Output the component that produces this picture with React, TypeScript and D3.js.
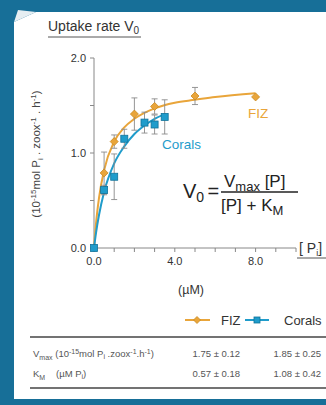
import React from "react";
import { scaleLinear, line, curveMonotoneX, range } from "d3";

// measured points
const fizX = [0, 0.5, 1, 2, 3, 5, 8];
const fizY = [0, 0.79, 1.12, 1.41, 1.49, 1.6, 1.59];
const fizErr = [0, 0.22, 0.07, 0.17, 0.08, 0.09, 0.03];
const coralX = [0, 0.5, 1, 1.5, 2.5, 3, 3.5];
const coralY = [0, 0.61, 0.75, 1.15, 1.32, 1.3, 1.38];
const coralErr = [0, 0.05, 0.24, 0.1, 0.11, 0.1, 0.18];

// fitted curves
const fizFitX = [0, 0.1, 0.25, 0.5, 1, 1.5, 2, 3, 4, 5, 6, 8];
const fizFitY = [0, 0.26, 0.53, 0.82, 1.12, 1.27, 1.36, 1.47, 1.53, 1.56, 1.59, 1.63];
const coralFitX = [0, 0.1, 0.25, 0.5, 1, 1.5, 2, 2.5, 3, 3.5];
const coralFitY = [0, 0.16, 0.35, 0.59, 0.89, 1.07, 1.2, 1.29, 1.36, 1.41];

const xTickLabels = [0, 4, 8];
const yTickLabels = [0, 1, 2];

const tableFiz = ["1.75 \u00b1 0.12", "0.57 \u00b1 0.18"];
const tableCorals = ["1.85 \u00b1 0.25", "1.08 \u00b1 0.42"];

const ORANGE = "#e9a53a";
const ORANGE_DARK = "#c98a22";
const BLUE = "#1f9ccb";
const BLUE_DARK = "#11739a";
const FONT = "'Liberation Sans', Arial, sans-serif";

function Diamond({ cx, cy, s = 4 }) {
  return (
    <path
      d={`M${cx},${cy - s}L${cx + s},${cy}L${cx},${cy + s}L${cx - s},${cy}Z`}
      fill={ORANGE}
      stroke={ORANGE_DARK}
      strokeWidth={0.8}
    />
  );
}

function Square({ cx, cy, s = 3.5 }) {
  return (
    <rect
      x={cx - s}
      y={cy - s}
      width={s * 2}
      height={s * 2}
      fill={BLUE}
      stroke={BLUE_DARK}
      strokeWidth={0.8}
    />
  );
}

export default function App() {
  const W = 326,
    H = 405;
  const x = scaleLinear().domain([0, 10]).range([94, 296]);
  const y = scaleLinear().domain([0, 2]).range([248, 58]);

  const fitLine = line<number>()
    .x((d) => x(d[0]))
    .y((d) => y(d[1]))
    .curve(curveMonotoneX);

  const fizFit = fizFitX.map((v, i) => [v, fizFitY[i]]);
  const coralFit = coralFitX.map((v, i) => [v, coralFitY[i]]);

  const errBar = (xs, ys, es, key) =>
    xs.map((v, i) =>
      es[i] > 0.04 ? (
        <g key={key + i} stroke="#8a8a8a" strokeWidth={0.9}>
          <line x1={x(v)} x2={x(v)} y1={y(ys[i] + es[i])} y2={y(ys[i] - es[i])} />
          <line x1={x(v) - 3} x2={x(v) + 3} y1={y(ys[i] + es[i])} y2={y(ys[i] + es[i])} />
          <line x1={x(v) - 3} x2={x(v) + 3} y1={y(ys[i] - es[i])} y2={y(ys[i] - es[i])} />
        </g>
      ) : null
    );

  return (
    <svg
      width={W}
      height={H}
      style={{ position: "absolute", left: 0, top: 0, fontFamily: FONT }}
    >
      {/* page background */}
      <rect width={W} height={H} fill="#176f98" />
      <path d={`M14,22L36,12L${W},12L${W},399L14,399Z`} fill="#ffffff" />
      <path d="M14,22L36,12L18,10Z" fill="#e6eef2" />

      {/* title */}
      <text x={48} y={31} fontSize={14} fill="#333">
        Uptake rate V<tspan dy={3} fontSize={10}>0</tspan>
      </text>
      <line x1={48} x2={141} y1={37} y2={37} stroke="#555" strokeWidth={1} />

      {/* y axis */}
      <line x1={x(0)} x2={x(0)} y1={y(2)} y2={y(0)} stroke="#888" />
      {range(0, 2.01, 0.5).map((t) => (
        <line key={t} x1={x(0) - 4} x2={x(0)} y1={y(t)} y2={y(t)} stroke="#888" />
      ))}
      {yTickLabels.map((t) => (
        <text key={t} x={x(0) - 8} y={y(t) + 4} fontSize={11} fill="#333" textAnchor="end">
          {t.toFixed(1)}
        </text>
      ))}
      <text
        transform={`translate(40,154) rotate(-90)`}
        textAnchor="middle"
        fontSize={11.5}
        fill="#444"
      >
        (10<tspan dy={-4} fontSize={8}>-15</tspan>
        <tspan dy={4}>mol P</tspan>
        <tspan dy={3} fontSize={8}>i</tspan>
        <tspan dy={-3}> . zoox</tspan>
        <tspan dy={-4} fontSize={8}>-1</tspan>
        <tspan dy={4}> . h</tspan>
        <tspan dy={-4} fontSize={8}>-1</tspan>
        <tspan dy={4}>)</tspan>
      </text>

      {/* x axis */}
      <line x1={x(0)} x2={x(10)} y1={y(0)} y2={y(0)} stroke="#888" />
      {range(0, 11).map((t) => (
        <line key={t} x1={x(t)} x2={x(t)} y1={y(0)} y2={y(0) + 4} stroke="#888" />
      ))}
      {xTickLabels.map((t) => (
        <text key={t} x={x(t)} y={y(0) + 17} fontSize={11} fill="#333" textAnchor="middle">
          {t.toFixed(1)}
        </text>
      ))}
      <text x={299} y={253} fontSize={14} fill="#333">
        [ P<tspan dy={3} fontSize={9}>i</tspan>
        <tspan dy={-3}>]</tspan>
      </text>
      <line x1={297} x2={326} y1={258} y2={258} stroke="#555" />
      <text x={191} y={294} fontSize={12.5} fill="#333" textAnchor="middle">
        ({"\u00b5"}M)
      </text>

      {/* fits */}
      <path d={fitLine(fizFit)} fill="none" stroke={ORANGE} strokeWidth={2} />
      <path d={fitLine(coralFit)} fill="none" stroke={BLUE} strokeWidth={2} />

      {/* error bars + markers */}
      {errBar(fizX, fizY, fizErr, "fe")}
      {errBar(coralX, coralY, coralErr, "ce")}
      {coralX.map((v, i) => (
        <Square key={"cs" + i} cx={x(v)} cy={y(coralY[i])} />
      ))}
      {fizX.map((v, i) =>
        v === 0 ? null : <Diamond key={"fd" + i} cx={x(v)} cy={y(fizY[i])} />
      )}

      {/* series labels */}
      <text x={248} y={118} fontSize={13.5} fill={ORANGE}>
        FIZ
      </text>
      <text x={162} y={149} fontSize={13.5} fill={BLUE}>
        Corals
      </text>

      {/* equation */}
      <g fill="#222">
        <text x={183} y={198} fontSize={20}>
          V<tspan dy={4} fontSize={14}>0</tspan>
        </text>
        <text x={207.5} y={198} fontSize={20}>
          =
        </text>
        <text x={224} y={187} fontSize={17}>
          V<tspan dy={4} fontSize={13}>max</tspan>
          <tspan dy={-4}> [P]</tspan>
        </text>
        <line x1={221} x2={298} y1={192} y2={192} stroke="#222" strokeWidth={1.3} />
        <text x={221} y={211} fontSize={17}>
          [P] + K<tspan dy={4} fontSize={13}>M</tspan>
        </text>
      </g>

      {/* legend */}
      <line x1={185} x2={210} y1={320} y2={320} stroke={ORANGE} strokeWidth={2} />
      <Diamond cx={197} cy={320} s={3.5} />
      <text x={221} y={325} fontSize={13} fill="#333">
        FIZ
      </text>
      <line x1={245} x2={269} y1={320} y2={320} stroke={BLUE} strokeWidth={2} />
      <Square cx={257} cy={320} s={3} />
      <text x={284} y={325} fontSize={13} fill="#333">
        Corals
      </text>

      {/* table */}
      <line x1={30} x2={W} y1={337} y2={337} stroke="#444" strokeWidth={1.5} />
      <line x1={30} x2={W} y1={388} y2={388} stroke="#444" strokeWidth={1.5} />
      <g fontSize={9.5} fill="#555">
        <text x={33} y={357}>
          V<tspan dy={3} fontSize={7}>max</tspan>
          <tspan dy={-3}> (10</tspan>
          <tspan dy={-3} fontSize={7}>-15</tspan>
          <tspan dy={3}>mol P</tspan>
          <tspan dy={2} fontSize={7}>i</tspan>
          <tspan dy={-2}> .zoox</tspan>
          <tspan dy={-3} fontSize={7}>-1</tspan>
          <tspan dy={3}>.h</tspan>
          <tspan dy={-3} fontSize={7}>-1</tspan>
          <tspan dy={3}>)</tspan>
        </text>
        <text x={33} y={377}>
          K<tspan dy={3} fontSize={7}>M</tspan>
          <tspan dy={-3} x={56}>({"\u00b5"}M P</tspan>
          <tspan dy={2} fontSize={7}>i</tspan>
          <tspan dy={-2}>)</tspan>
        </text>
        {tableFiz.map((s, i) => (
          <text key={"tf" + i} x={240} y={357 + i * 20} textAnchor="end">
            {s}
          </text>
        ))}
        {tableCorals.map((s, i) => (
          <text key={"tc" + i} x={321} y={357 + i * 20} textAnchor="end">
            {s}
          </text>
        ))}
      </g>
    </svg>
  );
}
